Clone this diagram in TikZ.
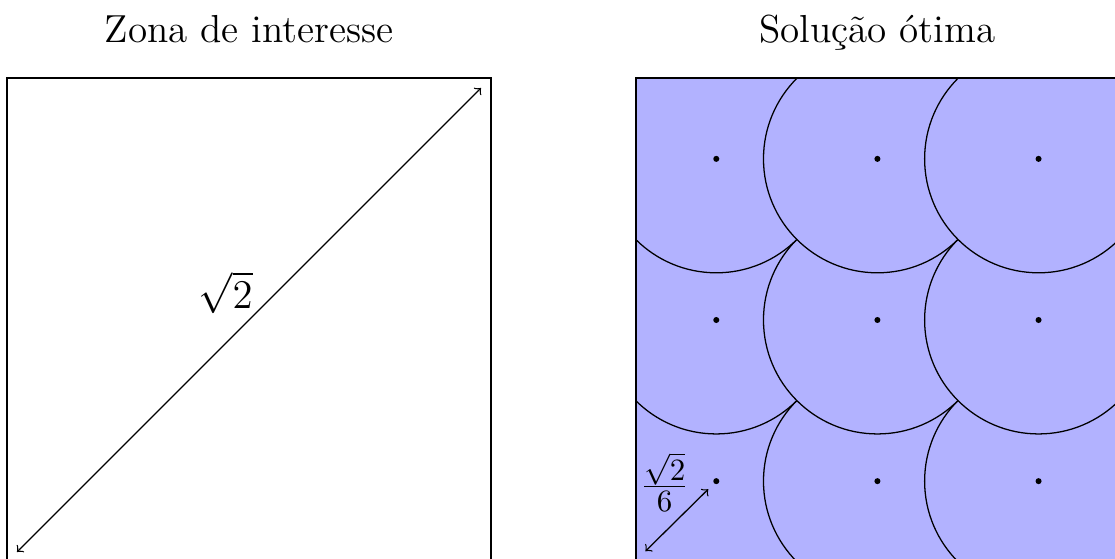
\documentclass[tikz,border=0pt]{standalone}
\usetikzlibrary{calc}
\begin{document}
\begin{tikzpicture}[
  title/.style={anchor=base, font=\fontsize{13.8}{16}\selectfont},
  lbl/.style={font=\fontsize{13.8}{16}\selectfont, inner sep=0pt},
  frame/.style={draw=black, line width=0.75pt},
  disc/.style={fill=blue!30, draw=black, line width=0.45pt},
  dim/.style={<->, line width=0.45pt},
  center/.style={fill=black, circle, inner sep=0pt, minimum size=0.075cm}
]
\useasboundingbox (-0.0906,0.0459) rectangle (13.749,6.972);
% left square
\coordinate (L0) at (0,0);
\coordinate (L1) at (6,6);
\draw[frame] (L0) rectangle (L1);
\coordinate (La) at (0.12,0.12);
\coordinate (Lb) at (5.88,5.88);
\draw[dim] (La) -- (Lb);
\node[lbl] (rt) at (2.71,3.34) {$\sqrt{2}$};
\node[title] (t1) at (3,6.442) {Zona de interesse};
% right square
\begin{scope}[shift={(7.8,0)}]
  \coordinate (R0) at (0,0);
  \coordinate (R1) at (6,6);
  \fill[blue!30] (R0) rectangle (R1);
  \begin{scope}
    \clip (R0) rectangle (R1);
    \foreach \j in {1,3,5} {
      \foreach \i in {1,3,5} {
        \draw[disc] (\i,\j) circle ({sqrt(2)});
      }
    }
  \end{scope}
  \draw[frame] (R0) rectangle (R1);
  \foreach \i in {1,3,5} {
    \foreach \j in {1,3,5} {
      \node[center] (c\i\j) at (\i,\j) {};
    }
  }
  \coordinate (Ra) at (0.12,0.13);
  \coordinate (Rb) at (0.9,0.9);
  \draw[dim] (Ra) -- (Rb);
  \node[lbl, font=\fontsize{15.6}{18}\selectfont] (fr) at (0.36,0.99) {$\frac{\sqrt{2}}{6}$};
  \node[title] (t2) at (3,6.442) {Solução ótima};
\end{scope}
\end{tikzpicture}
\end{document}
